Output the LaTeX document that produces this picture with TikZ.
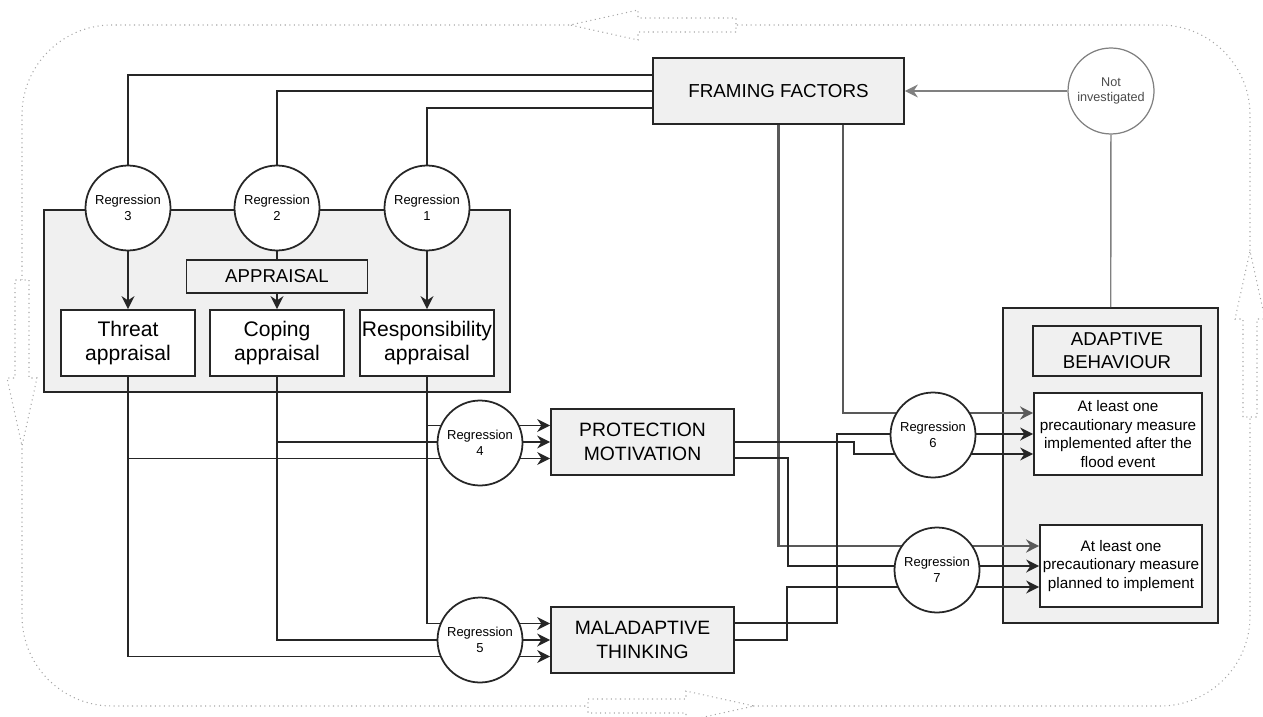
\documentclass[tikz,border=0pt]{standalone}
\usepackage{fontspec}
\setmainfont{Liberation Sans}
\usetikzlibrary{arrows.meta}
\pgfdeclarelayer{panels}
\pgfdeclarelayer{wires}
\pgfsetlayers{panels,wires,main}
\tikzset{
pics/flowarrow/.style={
code={
\draw[gray!70,dotted,line width=.6pt,fill=white] (0,-7) -- (98,-7) -- (98,-15) -- (166,0) -- (98,15) -- (98,7) -- (0,7) -- cycle;
}},
box/.style={draw=black!85,line width=1pt,align=center,inner sep=1pt},
graybox/.style={box,fill=black!6},
whitebox/.style={box,fill=white},
reg/.style={circle,draw=black!85,line width=1pt,fill=white,minimum size=1.7cm,inner sep=0pt,align=center,font=\fontsize{7.4}{9.4}\selectfont},
wire/.style={line width=1pt,draw=black!85},
bigwire/.style={line width=1.3pt,draw=black!65},
}

\begin{document}
\begin{tikzpicture}[x=0.02cm,y=-0.02cm,>={Stealth[length=2.6mm,width=2.6mm]}]
\useasboundingbox (0,0) rectangle (1263,716);
\begin{pgfonlayer}{panels}
\draw[gray!70,dotted,line width=.6pt,rounded corners=1.8cm] (22,25) rectangle (1250,706);
\foreach \x/\y/\r in {736/25/180,588/706/0,22/280/-90,1250/417/90}
  \pic[rotate=\r] at (\x,\y) {flowarrow};
\node[graybox,minimum width=9.32cm,minimum height=3.64cm] (apppanel) at (277,301) {};
\node[graybox,minimum width=4.3cm,minimum height=6.3cm] (adapt) at (1110.5,465.5) {};
\end{pgfonlayer}

\node[graybox,minimum width=5.02cm,minimum height=1.32cm,font=\fontsize{10.7}{13}\selectfont] (frame) at (778.5,91) {FRAMING FACTORS};
\node[circle,draw=gray,line width=.7pt,fill=white,minimum size=1.72cm,inner sep=0pt,align=center,text=black!70,font=\fontsize{7.2}{9}\selectfont] (notinv) at (1111,91) {Not\\investigated};
\node[graybox,minimum width=3.62cm,minimum height=.66cm,font=\fontsize{10.6}{13}\selectfont] (applabel) at (277,276.5) {APPRAISAL};
\foreach \n/\t/\x in {threat/Threat/128,coping/Coping/277,resp/Responsibility/427}
  \node[whitebox,minimum width=2.68cm,minimum height=1.32cm,font=\fontsize{12}{14}\selectfont] (\n) at (\x,343) {\t\\appraisal};
\foreach \n/\x/\y in {1/427/208,2/277/208,3/128/208,4/480/443,5/480/640,6/933/435,7/937/570}
  \node[reg] (r\n) at (\x,\y) {Regression\\\n};
\node[graybox,minimum width=3.66cm,minimum height=1.32cm,font=\fontsize{11}{14}\selectfont] (prot) at (642.5,442) {PROTECTION\\MOTIVATION};
\node[graybox,minimum width=3.66cm,minimum height=1.32cm,font=\fontsize{11}{14}\selectfont] (mal) at (642.5,640) {MALADAPTIVE\\THINKING};
\node[graybox,minimum width=3.36cm,minimum height=1cm,font=\fontsize{10.6}{13}\selectfont] (adlabel) at (1117,351) {ADAPTIVE\\BEHAVIOUR};
\node[whitebox,minimum width=3.36cm,minimum height=1.64cm,font=\fontsize{8.7}{10.5}\selectfont] (impl) at (1118,434) {At least one\\precautionary measure\\implemented after the\\flood event};
\node[whitebox,minimum width=3.24cm,minimum height=1.64cm,font=\fontsize{8.7}{10.5}\selectfont] (plan) at (1121,566) {At least one\\precautionary measure\\planned to implement};

\foreach \n/\s in {3/.32,2/0,1/-.34}
  \draw[wire] ([yshift=\s cm]frame.west) -| (r\n);
\draw[wire,->] (r3) -- (threat);
\draw[wire] (r2) -- (applabel);
\draw[wire,->] (applabel) -- (coping);
\draw[wire,->] (r1) -- (resp);
\draw[gray,line width=.8pt,->] (notinv) -- (frame);
\draw[gray,line width=.8pt] (notinv) -- (adapt);

\begin{pgfonlayer}{wires}
\foreach \b/\s in {resp/.33,coping/0,threat/-.33} {
  \draw[wire,->] (\b) |- ([yshift=\s cm]prot.west);
  \draw[wire,->] (\b) |- ([yshift=\s cm]mal.west);
}
\draw[bigwire,->] (frame.south) |- ([yshift=.4cm]plan.west);
\draw[bigwire,->] ([xshift=1.29cm]frame.south) |- ([yshift=.42cm]impl.west);
\draw[wire,->] (prot.east) -- ++(119,0) |- ([yshift=-.4cm]impl.west);
\draw[wire,->] ([yshift=-.32cm]prot.east) -- ++(53,0) |- (plan.west);
\draw[wire,->] ([yshift=.34cm]mal.east) -- ++(102,0) |- (impl.west);
\draw[wire,->] (mal.east) -- ++(52,0) |- ([yshift=-.42cm]plan.west);
\end{pgfonlayer}
\end{tikzpicture}
\end{document}
